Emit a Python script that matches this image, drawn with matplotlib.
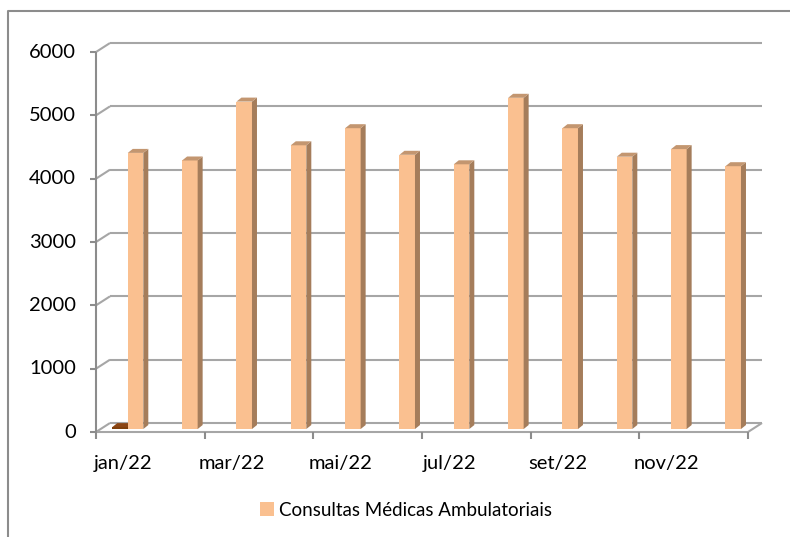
import matplotlib
matplotlib.use("Agg")
import matplotlib.pyplot as plt
from matplotlib.patches import Polygon, Patch
from matplotlib.lines import Line2D
import numpy as np

# ---------------- data ----------------
months = ["jan/22", "fev/22", "mar/22", "abr/22", "mai/22", "jun/22",
          "jul/22", "ago/22", "set/22", "out/22", "nov/22", "dez/22"]
consultas = [4360, 4240, 5170, 4480, 4750, 4330, 4180, 5230, 4750, 4300, 4420, 4150]
outra_serie = [30, np.nan, np.nan, np.nan, np.nan, np.nan,
               np.nan, np.nan, np.nan, np.nan, np.nan, np.nan]
yticks = [0, 1000, 2000, 3000, 4000, 5000, 6000]
series_name = "Consultas Médicas Ambulatoriais"

# ---------------- style ----------------
plt.rcParams['font.family'] = ['Lato', 'DejaVu Sans']
FS = 14.5
FS_LEG = 13.5
GRID = '#a6a6a6'
AXC = '#8c8c8c'
OR_FRONT, OR_SIDE, OR_TOP = '#fac090', '#a57d5b', '#c39670'
BR_FRONT, BR_SIDE, BR_TOP = '#7f3f0a', '#5a2c06', '#8b4513'

W, H = 790, 537
fig = plt.figure(figsize=(W / 100, H / 100), dpi=100)
x0, x1 = 96, 748
ytop, ybot = 52, 432
ax = fig.add_axes([x0 / W, (H - ybot) / H, (x1 - x0) / W, (ybot - ytop) / H])
n = len(months)
ax.set_xlim(-0.5, n - 0.5)
ax.set_ylim(0, yticks[-1])
ax.axis('off')

px_x = n / (x1 - x0)
px_y = yticks[-1] / (ybot - ytop)
DX, DY = 14 * px_x, 9 * px_y          # wall depth
LW = 1.5

def ln(xs, ys, c=GRID, lw=LW, z=1):
    ax.plot(xs, ys, color=c, lw=lw, clip_on=False, zorder=z, solid_capstyle='butt')

# back wall gridlines and left connectors
for v in yticks:
    ln([-0.5 + DX, n - 0.5 + DX], [v + DY, v + DY])
    ln([-0.5, -0.5 + DX], [v, v + DY])
# floor
ln([-0.5, n - 0.5], [0, 0], c=GRID)
ln([n - 0.5, n - 0.5 + DX], [0, DY], c=GRID)
# vertical axis
ln([-0.5, -0.5], [0, yticks[-1]], c=AXC)
for v in yticks:
    ln([-0.5 - 6 * px_x, -0.5], [v, v], c=AXC)
    ax.text(-0.5 - 20 * px_x, v, str(v), ha='right', va='center', fontsize=FS,
            color='black')
# category ticks and labels
for k in range(0, n + 1, 2):
    ln([-0.5 + k, -0.5 + k], [0, -7 * px_y], c=AXC)
for i in range(0, n, 2):
    ax.text(i, -31 * px_y, months[i], ha='center', va='center', fontsize=FS,
            color='black')

# bars (3D look)
w = 1 / 3.5
f = 0.33
sx, sy = f * DX, f * DY
bdx, bdy = 5 * px_x, 4 * px_y
xs = np.arange(n)

def bars3d(xleft, vals, cf, cs, ct, z):
    ax.bar(xleft, vals, width=w, bottom=sy, align='edge', color=cf,
           edgecolor='none', zorder=z, clip_on=False)
    for xl, v in zip(xleft, vals):
        if np.isnan(v):
            continue
        top = sy + v
        xr = xl + w
        ax.add_patch(Polygon([(xr, sy), (xr + bdx, sy + bdy), (xr + bdx, top + bdy), (xr, top)],
                             closed=True, facecolor=cs, edgecolor='none', zorder=z, clip_on=False))
        ax.add_patch(Polygon([(xl, top), (xl + bdx, top + bdy), (xr + bdx, top + bdy), (xr, top)],
                             closed=True, facecolor=ct, edgecolor='none', zorder=z, clip_on=False))

bars3d(xs - w + sx, np.array(outra_serie, dtype=float), BR_FRONT, BR_SIDE, BR_TOP, 3)
bars3d(xs + sx, np.array(consultas, dtype=float), OR_FRONT, OR_SIDE, OR_TOP, 4)

# legend
fig.legend(handles=[Patch(facecolor=OR_FRONT, edgecolor='none', label=series_name)],
           loc='center', bbox_to_anchor=(406 / W, 1 - 510 / H), frameon=False,
           fontsize=FS_LEG, handlelength=0.75, handleheight=0.75, handletextpad=0.3)

# chart border (clipped at right/bottom)
fig.add_artist(Line2D([8 / W, 8 / W, 1.0], [0.0, 1 - 11 / H, 1 - 11 / H],
                      transform=fig.transFigure, color=AXC, lw=1.5))

fig.savefig("out.png", dpi=100, facecolor='white')
